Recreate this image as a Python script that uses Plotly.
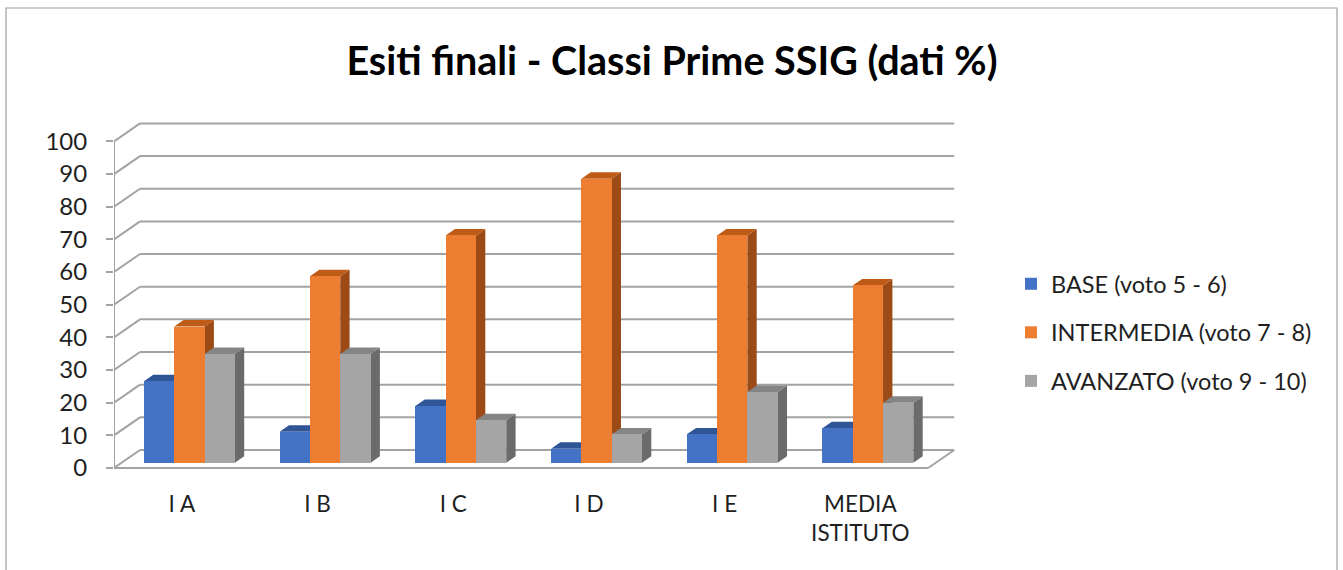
import plotly.graph_objects as go

categories = ["I A", "I B", "I C", "I D", "I E", "MEDIA<br>ISTITUTO"]
series_names = ["BASE (voto 5 - 6)", "INTERMEDIA (voto 7 - 8)", "AVANZATO (voto 9 - 10)"]
base_vals = [25.0, 9.5, 17.4, 4.3, 8.7, 10.6]
intermedia_vals = [41.7, 57.1, 69.6, 87.0, 69.6, 54.3]
avanzato_vals = [33.3, 33.3, 13.0, 8.7, 21.7, 18.4]
y_ticks = [0, 10, 20, 30, 40, 50, 60, 70, 80, 90, 100]

front_colors = ["#4472C4", "#ED7D31", "#A5A5A5"]
top_colors = ["#2F5597", "#BE5B17", "#858585"]
side_colors = ["#284C8A", "#9C4A16", "#6B6B6B"]

W, H = 1343, 570
# plot area (front plane) in pixels
L_PX, R_PX, T_PX, B_PX = 114, 956, 100, 480
CU = 135.7    # px per category
VU = 3.266    # px per value unit
ZERO_PX = 468
x_rng = [-0.5, -0.5 + (R_PX - L_PX) / CU]
y_rng = [(ZERO_PX - B_PX) / VU, (ZERO_PX - T_PX) / VU]

# oblique depth of the chart box
DX = 26 / CU
DY = 18 / VU
F0, FD = 0.29, 0.36          # bar front depth fraction, bar depth fraction
BW = 30.3 / CU               # bar width
ddx, ddy = FD * DX, FD * DY
bar_base = F0 * DY

GRID = "#A3A3A3"
FONT = "Lato"
TXT = "#1f1f1f"

fig = go.Figure()
shapes = []

# walls: gridlines on back wall + side wall diagonals
for v in y_ticks:
    shapes.append(dict(type="line", x0=-0.5 + DX, y0=v + DY, x1=len(categories) - 0.5 + DX, y1=v + DY,
                       line=dict(color=GRID, width=2), layer="between"))
    shapes.append(dict(type="line", x0=-0.5, y0=v, x1=-0.5 + DX, y1=v + DY,
                       line=dict(color=GRID, width=2), layer="between"))
# floor front edge and right edge, front axis line
shapes.append(dict(type="line", x0=-0.5, y0=0, x1=len(categories) - 0.5, y1=0,
                   line=dict(color=GRID, width=2), layer="between"))
shapes.append(dict(type="line", x0=len(categories) - 0.5, y0=0, x1=len(categories) - 0.5 + DX, y1=DY,
                   line=dict(color=GRID, width=2), layer="between"))
shapes.append(dict(type="line", x0=-0.5, y0=0, x1=-0.5, y1=y_ticks[-1],
                   line=dict(color=GRID, width=2), layer="between"))

all_vals = [base_vals, intermedia_vals, avanzato_vals]
xs = list(range(len(categories)))
for k, vals in enumerate(all_vals):
    off = -1.5 * BW + k * BW + F0 * DX
    fig.add_trace(go.Bar(
        x=xs, y=vals, base=bar_base, offset=off, width=BW,
        name=series_names[k], marker=dict(color=front_colors[k], line=dict(width=0)),
        legendgroup=str(k), hovertemplate="%{y}<extra>" + series_names[k] + "</extra>",
    ))

# top and side faces (drawn below traces so front faces occlude correctly)
for i in xs:
    for k, vals in enumerate(all_vals):
        off = -1.5 * BW + k * BW + F0 * DX
        xl = i + off
        xr = xl + BW
        b = bar_base
        t = bar_base + vals[i]
        side = f"M{xr},{b} L{xr},{t} L{xr+ddx},{t+ddy} L{xr+ddx},{b+ddy} Z"
        top = f"M{xl},{t} L{xr},{t} L{xr+ddx},{t+ddy} L{xl+ddx},{t+ddy} Z"
        shapes.append(dict(type="path", path=side, fillcolor=side_colors[k],
                           line=dict(width=0), layer="between"))
        shapes.append(dict(type="path", path=top, fillcolor=top_colors[k],
                           line=dict(width=0), layer="between"))

# outer chart border
def px2paper_x(p):
    return (p - L_PX) / (R_PX - L_PX)

def px2paper_y(p):
    return (B_PX - p) / (B_PX - T_PX)

shapes.append(dict(type="rect", xref="paper", yref="paper",
                   x0=px2paper_x(6), x1=px2paper_x(1337), y0=px2paper_y(590), y1=px2paper_y(8),
                   line=dict(color="#A0A0A0", width=1.2), fillcolor="rgba(0,0,0,0)", layer="above"))

fig.update_layout(
    width=W, height=H,
    margin=dict(l=L_PX, r=W - R_PX, t=T_PX, b=H - B_PX),
    paper_bgcolor="white", plot_bgcolor="white",
    barmode="overlay",
    shapes=shapes,
    title=dict(text="<b>Esiti finali - Classi Prime SSIG (dati %)</b>",
               x=px2paper_x(672), xref="paper", xanchor="center",
               y=1 - 61 / H, yref="container", yanchor="middle",
               font=dict(family=FONT, size=39.5, color="#000000")),
    font=dict(family=FONT, color=TXT),
    legend=dict(x=px2paper_x(1011), xanchor="left", y=px2paper_y(262), yanchor="top",
                font=dict(family=FONT, size=23.5, color=TXT),
                traceorder="grouped", tracegroupgap=15,
                bgcolor="rgba(0,0,0,0)"),
    xaxis=dict(range=x_rng, tickmode="array", tickvals=xs, ticktext=categories,
               showgrid=False, zeroline=False, showline=False, ticks="",
               ticklabelstandoff=8, tickfont=dict(family=FONT, size=22.5, color=TXT),
               fixedrange=True),
    yaxis=dict(range=y_rng, tickmode="array", tickvals=y_ticks,
               ticktext=[str(v) for v in y_ticks],
               showgrid=False, zeroline=False, showline=False,
               ticks="outside", ticklen=7, tickwidth=2, tickcolor=GRID,
               ticklabelstandoff=14, tickfont=dict(family=FONT, size=24, color=TXT),
               fixedrange=True),
    bargap=0,
)

fig.write_html("out.html", config={"displayModeBar": False},
               post_script="document.body.style.margin='0';document.body.style.overflow='hidden';")
